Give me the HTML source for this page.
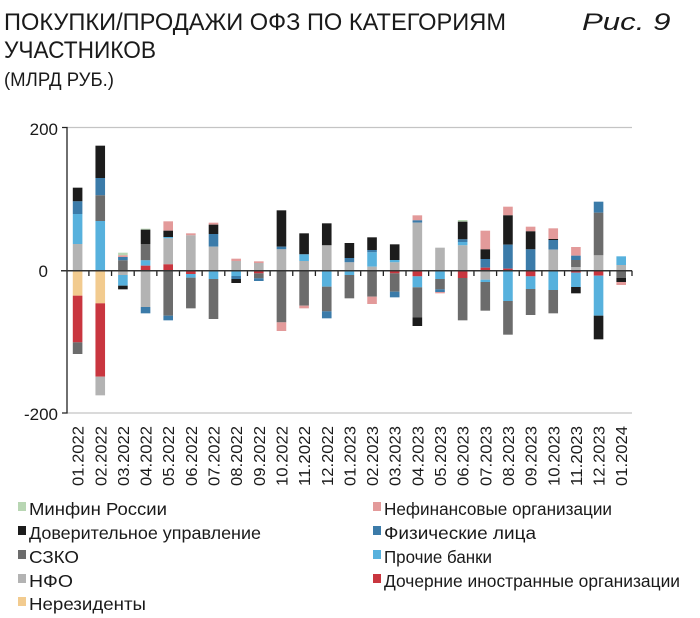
<!DOCTYPE html>
<html><head><meta charset="utf-8"><style>
html,body{margin:0;padding:0;background:#fff;}
svg{display:block;font-family:"Liberation Sans","DejaVu Sans",sans-serif;}
</style></head><body>
<svg width="700" height="618" viewBox="0 0 700 618" xmlns="http://www.w3.org/2000/svg">
<text x="4" y="30" font-size="24" fill="#1a1a1a" textLength="502" lengthAdjust="spacingAndGlyphs">ПОКУПКИ/ПРОДАЖИ ОФЗ ПО КАТЕГОРИЯМ</text>
<text transform="translate(582,30) scale(1.3,1)" font-size="24" font-style="italic" fill="#1a1a1a">Рис. 9</text>
<text x="4" y="58" font-size="24" fill="#1a1a1a" textLength="152" lengthAdjust="spacingAndGlyphs">УЧАСТНИКОВ</text>
<text x="4" y="86" font-size="19" fill="#1a1a1a" textLength="110" lengthAdjust="spacingAndGlyphs">(МЛРД РУБ.)</text>
<g id="chart"></g>
<g id="legend"></g>
</svg>
<script>
const K="#1c1c1c",DB="#3b7ba9",LB="#57b1dd",DG="#6c6c6c",LG="#b3b3b3",R="#c9363f",PE="#f2cb8f",P="#e39a9a",GR="#b8d6b3";
const bars=[
[[203,244,K],[244,282,DB],[282,372,LB],[372,452,LG],[452,527,PE],[527,667,R],[667,702,DG]],
[[77,174,K],[174,226,DB],[226,303,DG],[303,452,LB],[452,550,PE],[550,770,R],[770,826,LG]],
[[398,406,GR],[406,411,P],[411,421,DB],[421,452,DG],[452,465,LG],[465,497,LB],[497,508,K]],
[[326,329,GR],[329,372,K],[372,421,DG],[421,437,LB],[437,452,R],[452,561,LG],[561,580,DB]],
[[304,332,P],[332,351,K],[351,355,LB],[355,433,LG],[433,452,R],[452,587,DG],[587,601,DB]],
[[340,346,P],[346,452,LG],[452,462,R],[462,473,LB],[473,565,DG]],
[[308,314,P],[314,342,K],[342,380,DB],[380,452,LG],[452,477,LB],[477,597,DG]],
[[416,423,P],[423,452,LG],[452,468,LB],[468,477,DB],[477,489,K]],
[[424,429,P],[429,452,LG],[452,460,R],[460,475,DG],[475,483,DB]],
[[271,380,K],[380,388,DB],[388,452,LG],[452,607,DG],[607,633,P]],
[[340,403,K],[403,423,LB],[423,452,LG],[452,557,DG],[557,565,P]],
[[310,376,K],[376,452,LG],[452,500,LB],[500,574,DG],[574,595,DB]],
[[369,414,K],[414,427,DB],[427,452,LG],[452,465,LB],[465,535,DG]],
[[352,390,K],[390,397,DB],[397,440,LB],[440,452,LG],[452,530,DG],[530,552,P]],
[[373,420,K],[420,427,LB],[427,452,LG],[452,460,R],[460,515,DG],[515,532,DB]],
[[286,301,P],[301,308,DB],[308,452,LG],[452,469,R],[469,502,LB],[502,592,DG],[592,618,K]],
[[383,452,LG],[452,477,LB],[477,508,DG],[508,516,DB],[516,520,P]],
[[300,305,GR],[305,358,K],[358,366,DB],[366,376,LB],[376,452,LG],[452,474,R],[474,601,DG]],
[[332,388,P],[388,417,K],[417,443,DB],[443,452,R],[452,479,LG],[479,486,LB],[486,572,DG]],
[[260,286,P],[286,374,K],[374,446,DB],[446,452,R],[452,543,LB],[543,644,DG]],
[[320,334,P],[334,388,K],[388,452,DB],[452,469,R],[469,507,LB],[507,585,DG]],
[[325,357,P],[357,360,K],[360,389,DB],[389,452,LG],[452,510,LB],[510,580,DG]],
[[381,407,P],[407,420,DB],[420,441,DG],[441,452,LG],[452,458,R],[458,501,LB],[501,520,K]],
[[245,278,DB],[278,406,DG],[406,452,LG],[452,467,R],[467,587,LB],[587,658,K]],
[[409,435,LB],[435,452,LG],[452,474,DG],[474,486,K],[486,495,P]]
];
const labels=["01.2022","02.2022","03.2022","04.2022","05.2022","06.2022","07.2022","08.2022","09.2022","10.2022","11.2022","12.2022","01.2023","02.2023","03.2023","04.2023","05.2023","06.2023","07.2023","08.2023","09.2023","10.2023","11.2023","12.2023","01.2024"];
let s="";
s+='<line x1="67" y1="127.5" x2="632" y2="127.5" stroke="#c4c4c4" stroke-width="1.3"/>';
s+='<line x1="67" y1="413" x2="632" y2="413" stroke="#c4c4c4" stroke-width="1.3"/>';
s+='<path d="M62 127.5H67V413H62" fill="none" stroke="#222" stroke-width="1.3"/>';
s+='<text x="58" y="135" font-size="17" text-anchor="end" fill="#1a1a1a">200</text>';
s+='<text x="48" y="277" font-size="17" text-anchor="end" fill="#1a1a1a">0</text>';
s+='<text x="58" y="420" font-size="17" text-anchor="end" fill="#1a1a1a">-200</text>';
const W=9.6;
bars.forEach((b,i)=>{
 const c=77.6+22.65*i;
 b.forEach(([a,z,col])=>{
  const y1=120+a/3,y2=120+z/3;
  s+=`<rect x="${(c-W/2).toFixed(2)}" y="${y1.toFixed(2)}" width="${W}" height="${(y2-y1).toFixed(2)}" fill="${col}"/>`;
 });
 s+=`<text transform="translate(${(c+6).toFixed(1)},426) rotate(-90)" font-size="15.5" text-anchor="end" fill="#1a1a1a" textLength="60" lengthAdjust="spacingAndGlyphs">${labels[i]}</text>`;
 if(i<24){const t=c+11.3;s+=`<line x1="${t}" y1="270.7" x2="${t}" y2="276" stroke="#222" stroke-width="1.3"/>`;}
});
s+='<line x1="61" y1="270.7" x2="632" y2="270.7" stroke="#333" stroke-width="1.5"/>';
s+='<line x1="632" y1="270.7" x2="632" y2="276" stroke="#222" stroke-width="1.3"/>';
document.getElementById("chart").innerHTML=s;
const leg=[
[18,509,GR,"Минфин России",138],[18,533,K,"Доверительное управление",232],[18,557,DG,"СЗКО",50],[18,581,LG,"НФО",44],[18,604,PE,"Нерезиденты",117],
[373,509,P,"Нефинансовые организации",228],[373,533,DB,"Физические лица",152],[373,557,LB,"Прочие банки",108],[373,581,R,"Дочерние иностранные организации",296]];
let l="";
leg.forEach(([x,y,c,t,w])=>{
 l+=`<rect x="${x}" y="${y-7}" width="8" height="9" fill="${c}"/>`;
 l+=`<text x="${x+11}" y="${y+6}" font-size="17.5" fill="#1a1a1a" textLength="${w}" lengthAdjust="spacingAndGlyphs">${t}</text>`;
});
document.getElementById("legend").innerHTML=l;
</script>
</body></html>
